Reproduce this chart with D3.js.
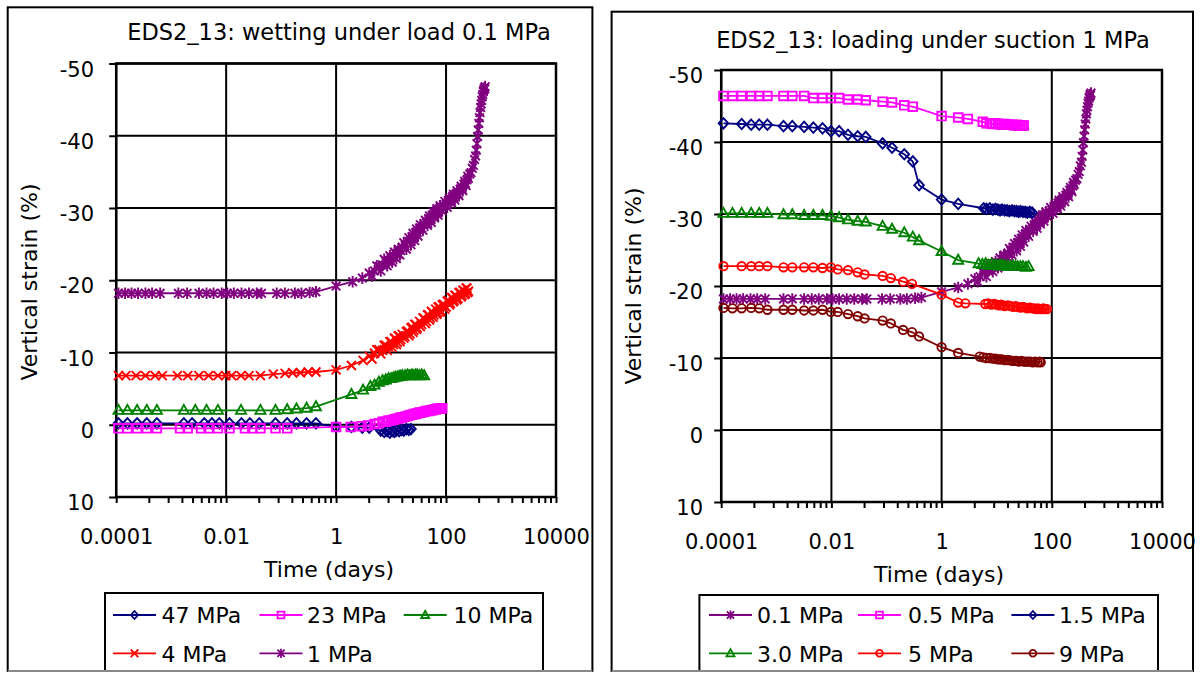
<!DOCTYPE html>
<html>
<head>
<meta charset="utf-8">
<script src="https://cdn.jsdelivr.net/npm/d3@7"></script>
<style>
  body { margin: 0; background: #fff; }
  svg { display: block; }
  text { font-family: "DejaVu Sans", Verdana, sans-serif; fill: #000; }
</style>
</head>
<body>
<svg id="chart" width="1204" height="673"></svg>
<script>
// ---- axis ticks ----
const timeTickValues = [1e-4, 1e-2, 1, 1e2, 1e4];
const timeTickLabels = ["0.0001", "0.01", "1", "100", "10000"];
const strainTickValues = [-50, -40, -30, -20, -10, 0, 10];
const strainTickLabels = ["-50", "-40", "-30", "-20", "-10", "0", "10"];
const minorSteps = [2, 3, 4, 5, 6, 7, 8, 9];

// ---- legend labels ----
const wettingLabels = ["47 MPa", "23 MPa", "10 MPa", "4 MPa", "1 MPa"];
const loadingLabels = ["0.1 MPa", "0.5 MPa", "1.5 MPa", "3.0 MPa", "5 MPa", "9 MPa"];

// ---- wetting under load 0.1 MPa: [time (days), vertical strain (%)] ----
const wet47MPa = [
  [1.1e-4,-0.2],[1.6e-4,-0.2],[2.4e-4,-0.2],[3.6e-4,-0.2],[5.5e-4,-0.2],[1.7e-3,-0.2],[2.4e-3,-0.2],
  [4e-3,-0.2],[5.5e-3,-0.2],[7.5e-3,-0.2],[0.0115,-0.2],[0.019,-0.2],[0.027,-0.2],[0.04,-0.2],
  [0.079,-0.2],[0.129,-0.2],[0.19,-0.2],[0.29,-0.2],[0.43,-0.2],[1,0.3],[1.9,0.3],[3,0.4],[4,0.4],
  [6.5,0.8],[7.5,1.0],[8.5,0.9],[9.5,1.1],[10.5,0.9],[11.5,1.0],[12.5,0.8],[14,0.9],[15.5,0.7],
  [17,0.8],[19,0.6],[21,0.7],[23,0.6]
];
const wet23MPa = [
  [1.1e-4,0.5],[1.6e-4,0.5],[2.4e-4,0.5],[3.6e-4,0.5],[5.5e-4,0.5],[1.45e-3,0.5],[2e-3,0.5],[3.5e-3,0.5],
  [4.8e-3,0.5],[7.1e-3,0.5],[0.0115,0.5],[0.022,0.5],[0.03,0.5],[0.042,0.5],[0.079,0.5],[0.129,0.5],
  [1,0.3],[1.85,0.3],[2.9,0.2],[3.8,0.1],
  [5,-0.1],[6,-0.2],[7,-0.4],[8,-0.4],[9,-0.6],[10,-0.6],[11,-0.7],[12,-0.8],[13,-0.8],[14,-0.9],
  [15,-1.0],[16,-1.0],[18,-1.1],[20,-1.2],[22,-1.3],[24,-1.4],[26,-1.5],[28,-1.5],[30,-1.6],[33,-1.7],
  [36,-1.7],[40,-1.8],[44,-1.9],[48,-1.9],[52,-2.0],[56,-2.0],[60,-2.1],[65,-2.1],[70,-2.2],[75,-2.2],
  [80,-2.3],[85,-2.3]
];
const wet10MPa = [
  [1.1e-4,-2.0],[1.6e-4,-2.0],[2.4e-4,-2.0],[3.6e-4,-2.0],[5.5e-4,-2.0],[1.7e-3,-2.0],[2.75e-3,-2.0],
  [4.4e-3,-2.0],[7.1e-3,-2.0],[0.0186,-2.0],[0.042,-2.0],[0.079,-2.0],[0.129,-2.1],[0.19,-2.2],
  [0.29,-2.3],[0.43,-2.5],[1.9,-4.2],[3.1,-4.8],[4.2,-5.3],[5,-5.5],[6,-5.9],[7,-6.1],[8,-6.2],[9,-6.4],
  [10,-6.4],[11,-6.5],[12,-6.6],[13,-6.6],[14,-6.7],[15,-6.7],[16,-6.8],[18,-6.8],[20,-6.9],[22,-6.8],
  [24,-6.9],[26,-6.8],[28,-6.9],[30,-6.9],[33,-6.8],[36,-6.9],[40,-6.8]
];
const wet4MPa = [
  [1.1e-4,-6.8],[1.5e-4,-6.8],[2.3e-4,-6.8],[3.4e-4,-6.8],[5.1e-4,-6.8],[6.9e-4,-6.8],[1.3e-3,-6.8],
  [2e-3,-6.8],[3.2e-3,-6.8],[4.8e-3,-6.8],[7.1e-3,-6.8],[9.8e-3,-6.8],[0.0126,-6.8],[0.0186,-6.8],
  [0.026,-6.8],[0.042,-6.8],[0.072,-7.0],[0.118,-7.1],[0.162,-7.2],[0.224,-7.2],[0.31,-7.3],[0.43,-7.3],
  [1,-7.6],[1.9,-8.2],[3.1,-8.9],
  [4,-9.5],[4.5,-9.1],[5,-9.9],[5.5,-10.4],[6,-10.4],[6.5,-9.8],[7,-10.3],[7.5,-11.0],[8,-11.0],[8.5,-10.3],
  [9,-10.7],[9.5,-11.5],[10,-11.5],[10.5,-10.7],[11,-11.1],[11.5,-12.0],[12,-11.9],[12.5,-11.1],[13,-11.4],
  [13.5,-12.3],[14,-12.3],[14.5,-11.5],[15,-11.8],[16,-12.5],[17,-12.0],[18,-12.2],[19,-12.9],[20,-13.0],
  [21,-12.3],[22,-12.6],[23,-13.4],[24,-13.5],[25,-12.8],[26,-13.1],[27,-13.9],[28,-13.9],[29,-13.2],
  [30,-13.4],[33,-14.3],[34,-13.6],[36,-13.9],[38,-14.8],[40,-14.7],[42,-14.0],[44,-14.3],[46,-15.2],
  [48,-15.2],[50,-14.5],[52,-14.8],[54,-15.7],[56,-15.6],[58,-14.9],[60,-15.2],[65,-16.0],[68,-15.3],
  [70,-15.5],[72,-16.3],[75,-16.3],[78,-15.6],[80,-15.8],[85,-16.6],[90,-16.7],[95,-16.0],[100,-16.3],
  [105,-17.1],[110,-17.2],[115,-16.6],[120,-16.8],[125,-17.6],[130,-17.6],[135,-17.0],[140,-17.2],
  [145,-17.9],[150,-17.9],[158,-17.3],[165,-17.5],[172,-18.3],[180,-18.3],[188,-17.7],[195,-17.9],
  [202,-18.6],[210,-18.6],[218,-18.0],[225,-18.2],[232,-18.9],[240,-18.9],[248,-18.3],[255,-18.5]
];
const wet1MPa = [
  [1.1e-4,-18.2],[1.45e-4,-18.2],[1.9e-4,-18.2],[2.5e-4,-18.2],[3.4e-4,-18.2],[4.5e-4,-18.2],[6.3e-4,-18.2],
  [1.35e-3,-18.2],[1.95e-3,-18.2],[3.2e-3,-18.2],[4.4e-3,-18.2],[5.9e-3,-18.2],[8.3e-3,-18.2],[0.0105,-18.2],
  [0.0138,-18.2],[0.019,-18.2],[0.026,-18.2],[0.036,-18.2],[0.044,-18.2],[0.083,-18.2],[0.117,-18.2],
  [0.178,-18.2],[0.234,-18.2],[0.33,-18.3],[0.43,-18.4],[1,-19.2],[2,-19.8],[3,-20.3],
  [4,-21.0],[4.5,-20.6],[5,-21.3],[5.5,-22.0],[6,-21.9],[6.5,-21.3],[7,-22.1],[7.5,-22.9],[8,-22.6],
  [8.5,-22.0],[9,-22.5],[9.5,-23.4],[10,-23.1],[10.5,-22.5],[11,-23.2],[11.5,-23.9],[12,-23.7],[12.5,-23.0],
  [13,-23.6],[13.5,-24.3],[14,-24.2],[14.5,-23.5],[15,-24.1],[16,-24.6],[17,-25.2],[18,-24.8],[19,-24.3],
  [20,-25.4],[21,-25.9],[22,-25.4],[23,-24.9],[24,-26.0],[25,-26.5],[26,-26.0],[27,-25.5],[28,-26.6],
  [29,-27.1],[30,-26.6],[31,-26.1],[33,-27.2],[34,-27.7],[36,-27.2],[38,-26.9],[40,-27.8],[42,-28.3],
  [44,-27.9],[46,-27.6],[48,-28.5],[50,-28.9],[52,-28.5],[54,-28.0],[56,-29.0],[58,-29.5],[60,-29.0],
  [62,-28.6],[65,-29.5],[68,-29.9],[70,-29.4],[72,-29.0],[75,-29.9],[78,-30.3],[80,-29.8],[85,-29.6],
  [90,-30.4],[95,-30.9],[100,-30.5],[105,-30.1],[110,-31.0],[115,-31.4],[120,-31.0],[125,-30.7],
  [130,-31.5],[135,-31.9],[140,-31.5],[145,-31.1],[150,-31.9],[158,-32.4],[165,-32.0],[172,-31.7],
  [180,-32.6],[188,-33.0],[195,-32.7],[202,-32.4],[210,-33.3],[218,-33.7],[225,-33.4],[232,-33.1],
  [240,-33.9],[248,-34.4],[255,-34.1],[270,-34.7],[285,-34.9],[300,-35.5],[315,-35.9],[330,-36.7],
  [345,-37.2],[355,-38.0],[365,-38.9],[375,-39.9],[385,-40.8],[395,-41.7],[405,-42.5],[415,-43.2],
  [425,-43.9],[435,-44.4],[445,-44.9],[455,-45.4],[465,-45.7],[475,-46.1],[485,-46.3],[495,-46.6],
  [505,-46.5],[515,-46.8]
];

// ---- loading under suction 1 MPa ----
// the 0.1 MPa stage is the same record as the 1 MPa wetting path
const load01MPa = wet1MPa;
const load05MPa = [
  [1.1e-4,-46.4],[1.6e-4,-46.4],[2.35e-4,-46.4],[3.5e-4,-46.4],[4.9e-4,-46.4],[6.9e-4,-46.4],[1.35e-3,-46.4],
  [1.95e-3,-46.4],[3.2e-3,-46.4],[4.7e-3,-46.1],[6.9e-3,-46.1],[9.8e-3,-46.1],[0.0138,-46.1],[0.02,-45.9],
  [0.03,-45.9],[0.042,-45.8],[0.085,-45.6],[0.126,-45.5],[0.21,-45.1],[0.30,-44.9],[1,-43.6],[2,-43.4],
  [3,-43.2],[5.6,-42.8],[6.5,-42.6],[7.5,-42.6],[8.5,-42.5],[9.5,-42.6],[10.5,-42.5],[11.5,-42.5],
  [12.5,-42.4],[14,-42.5],[15.5,-42.4],[17,-42.4],[19,-42.4],[21,-42.3],[23,-42.4],[25,-42.3],[27,-42.3],
  [29,-42.3],[31,-42.3]
];
const load15MPa = [
  [1.1e-4,-42.6],[2.35e-4,-42.5],[3.5e-4,-42.4],[4.9e-4,-42.4],[6.9e-4,-42.4],[1.35e-3,-42.2],[1.95e-3,-42.2],
  [3.2e-3,-42.1],[4.7e-3,-42.0],[6.9e-3,-41.9],[9.8e-3,-41.5],[0.0138,-41.5],[0.02,-41.0],[0.03,-40.8],
  [0.042,-40.7],[0.085,-39.8],[0.126,-39.2],[0.21,-38.3],[0.30,-37.3],[0.39,-34.0],[1,-32.0],[2,-31.4],
  [5.8,-30.8],[6.5,-30.7],[7.5,-30.8],[8.5,-30.6],[9.5,-30.7],[10.5,-30.6],[11.5,-30.5],[12.5,-30.6],
  [14,-30.5],[15.5,-30.5],[17,-30.4],[19,-30.5],[21,-30.4],[23,-30.4],[25,-30.3],[27,-30.4],[30,-30.3],
  [33,-30.3],[36,-30.2],[40,-30.3],[44,-30.2]
];
const load30MPa = [
  [1.1e-4,-30.1],[1.6e-4,-30.1],[2.35e-4,-30.1],[3.5e-4,-30.1],[4.9e-4,-30.1],[6.9e-4,-30.1],[1.35e-3,-29.9],
  [1.95e-3,-29.9],[3.2e-3,-29.8],[4.7e-3,-29.8],[6.9e-3,-29.8],[9.8e-3,-29.7],[0.0138,-29.5],[0.02,-29.2],
  [0.03,-29.0],[0.042,-28.9],[0.085,-28.3],[0.126,-27.9],[0.21,-27.4],[0.30,-26.8],[0.39,-26.3],[1,-24.8],
  [2,-23.6],[4.7,-23.1],[5.5,-23.0],[6.3,-23.1],[7,-22.9],[8,-23.0],[9,-22.9],[10,-22.9],[11,-22.8],
  [12,-22.9],[13,-22.8],[14,-22.8],[16,-22.8],[18,-22.7],[20,-22.8],[22,-22.7],[24,-22.7],[27,-22.7],
  [30,-22.7],[34,-22.6],[38,-22.7]
];
const load5MPa = [
  [1.1e-4,-22.75],[2.35e-4,-22.75],[3.5e-4,-22.75],[4.9e-4,-22.75],[6.9e-4,-22.75],[1.35e-3,-22.6],
  [1.95e-3,-22.6],[3.2e-3,-22.6],[4.7e-3,-22.6],[6.9e-3,-22.5],[9.8e-3,-22.6],[0.013,-22.3],[0.02,-22.2],
  [0.03,-21.9],[0.04,-21.6],[0.085,-21.4],[0.12,-21.1],[0.2,-20.6],[0.29,-20.3],[1,-18.8],[2,-17.7],
  [2.7,-17.6],[6.2,-17.5],[7,-17.6],[8,-17.4],[9,-17.5],[10,-17.4],[11,-17.3],[12,-17.4],[13,-17.3],
  [14,-17.2],[16,-17.3],[18,-17.2],[20,-17.1],[22,-17.2],[24,-17.1],[27,-17.0],[30,-17.1],[33,-17.0],
  [36,-16.9],[40,-17.0],[44,-16.9],[48,-16.9],[52,-16.8],[56,-16.9],[60,-16.8],[65,-16.8],[70,-16.9],
  [75,-16.8],[82,-16.8]
];
const load9MPa = [
  [1.1e-4,-16.95],[1.6e-4,-16.9],[2.35e-4,-16.9],[3.5e-4,-16.95],[4.9e-4,-16.9],[6.9e-4,-16.7],[1.35e-3,-16.7],
  [1.95e-3,-16.7],[3.2e-3,-16.6],[4.7e-3,-16.6],[6.9e-3,-16.7],[9.8e-3,-16.4],[0.013,-16.4],[0.02,-16.1],
  [0.03,-15.8],[0.04,-15.5],[0.085,-15.2],[0.12,-14.8],[0.2,-13.9],[0.29,-13.6],[0.39,-13.0],[1,-11.5],
  [2,-10.7],[4.9,-10.2],[5.7,-10.1],[6.5,-10.0],[7.5,-10.0],[8.5,-9.9],[9.5,-9.9],[10.5,-9.8],[11.5,-9.8],
  [12.5,-9.8],[14,-9.7],[15.5,-9.7],[17,-9.7],[19,-9.6],[21,-9.6],[23,-9.6],[25,-9.5],[28,-9.6],[31,-9.5],
  [34,-9.5],[37,-9.5],[41,-9.5],[45,-9.4],[50,-9.5],[55,-9.4],[60,-9.5],[63,-9.4]
];

// ---- marker glyphs (centred on the data point) ----
const markerPaths = {
  diamond: "M0,-5.2L4.8,0L0,5.2L-4.8,0Z",
  square: "M-4.3,-4.3H4.3V4.3H-4.3Z",
  triangle: "M0,-5.4L5,3.6H-5Z",
  cross: "M-4.5,-4.5L4.5,4.5M-4.5,4.5L4.5,-4.5",
  star: "M-4.3,-4.3L4.3,4.3M-4.3,4.3L4.3,-4.3M0,-5.8V5.8",
  circle: "M4.2,0A4.2,4.2 0 1,1 -4.2,0A4.2,4.2 0 1,1 4.2,0Z"
};
const legendMarkerPaths = {
  diamond: "M0,-4L3.6,0L0,4L-3.6,0Z",
  square: "M-3.4,-3.4H3.4V3.4H-3.4Z",
  triangle: "M0,-4.2L4,3H-4Z",
  cross: "M-3.8,-3.8L3.8,3.8M-3.8,3.8L3.8,-3.8",
  star: "M-3.6,-3.6L3.6,3.6M-3.6,3.6L3.6,-3.6M0,-4.6V4.6",
  circle: "M3.4,0A3.4,3.4 0 1,1 -3.4,0A3.4,3.4 0 1,1 3.4,0Z"
};

const NAVY = "#000080", MAGENTA = "#FF00FF", GREEN = "#008000",
      RED = "#FF0000", PURPLE = "#800080", MAROON = "#800000";

const panels = [
  {
    frame: [7.7, 7.3, 592.4, 671],
    plot: { x0: 116.2, x1: 556, y0: 63.5, y1: 497 },
    title: "EDS2_13: wetting under load 0.1 MPa", titleX: 339, titleY: 40,
    yLabelRight: 94, yLabelCenter: 282, yTitleX: 37,
    xTitleX: 329, xTitleY: 577,
    series: [
      { label: wettingLabels[0], data: wet47MPa, color: NAVY, marker: "diamond" },
      { label: wettingLabels[1], data: wet23MPa, color: MAGENTA, marker: "square" },
      { label: wettingLabels[2], data: wet10MPa, color: GREEN, marker: "triangle" },
      { label: wettingLabels[3], data: wet4MPa, color: RED, marker: "cross" },
      { label: wettingLabels[4], data: wet1MPa, color: PURPLE, marker: "star" }
    ],
    legend: { x0: 105, x1: 543, top: 593, lineX: [113, 259.5, 403.7], textX: [161.5, 307, 453.5], rowY: [615, 653.3] }
  },
  {
    frame: [611.6, 11.7, 1193, 671],
    plot: { x0: 721.2, x1: 1162, y0: 70, y1: 502 },
    title: "EDS2_13: loading under suction 1 MPa", titleX: 933, titleY: 47.5,
    yLabelRight: 703, yLabelCenter: 286, yTitleX: 641,
    xTitleX: 939, xTitleY: 582,
    series: [
      { label: loadingLabels[0], data: load01MPa, color: PURPLE, marker: "star" },
      { label: loadingLabels[1], data: load05MPa, color: MAGENTA, marker: "square" },
      { label: loadingLabels[2], data: load15MPa, color: NAVY, marker: "diamond" },
      { label: loadingLabels[3], data: load30MPa, color: GREEN, marker: "triangle" },
      { label: loadingLabels[4], data: load5MPa, color: RED, marker: "circle" },
      { label: loadingLabels[5], data: load9MPa, color: MAROON, marker: "circle" }
    ],
    legend: { x0: 699.4, x1: 1158, top: 595, lineX: [709, 858, 1011.4], textX: [757, 908, 1059], rowY: [615, 653.3] }
  }
];

const svg = d3.select("#chart");

function drawPanel(p) {
  const g = svg.append("g");
  const x = d3.scaleLog().domain([1e-4, 1e4]).range([p.plot.x0, p.plot.x1]);
  const y = d3.scaleLinear().domain([-50, 10]).range([p.plot.y0, p.plot.y1]);

  // gridlines
  g.append("g").selectAll("line").data(strainTickValues).join("line")
    .attr("x1", p.plot.x0).attr("x2", p.plot.x1)
    .attr("y1", d => y(d)).attr("y2", d => y(d))
    .attr("stroke", "#000").attr("stroke-width", 2);
  g.append("g").selectAll("line").data(timeTickValues).join("line")
    .attr("x1", d => x(d)).attr("x2", d => x(d))
    .attr("y1", p.plot.y0).attr("y2", p.plot.y1)
    .attr("stroke", "#000").attr("stroke-width", 2);

  // plot area border
  g.append("rect")
    .attr("x", p.plot.x0).attr("y", p.plot.y0)
    .attr("width", p.plot.x1 - p.plot.x0).attr("height", p.plot.y1 - p.plot.y0)
    .attr("fill", "none").attr("stroke", "#000").attr("stroke-width", 2.5);

  // y axis
  const yAxis = d3.axisLeft(y).tickValues(strainTickValues)
    .tickFormat((d, i) => strainTickLabels[i])
    .tickSizeInner(7).tickSizeOuter(0).tickPadding(p.plot.x0 - 7 - p.yLabelRight);
  const ya = g.append("g").attr("transform", `translate(${p.plot.x0},0)`).call(yAxis);
  ya.select(".domain").remove();
  ya.selectAll("line").attr("stroke", "#000").attr("stroke-width", 2);
  ya.selectAll("text").attr("dy", "0.6em").style("font-size", "21px")
    .style("font-family", '"DejaVu Sans", Verdana, sans-serif');

  // x axis
  const xAxis = d3.axisBottom(x).tickValues(timeTickValues)
    .tickFormat((d, i) => timeTickLabels[i])
    .tickSizeInner(6).tickSizeOuter(0);
  const xa = g.append("g").attr("transform", `translate(0,${p.plot.y1})`).call(xAxis);
  xa.select(".domain").remove();
  xa.selectAll("line").attr("stroke", "#000").attr("stroke-width", 2);
  xa.selectAll("text").attr("y", 47).attr("dy", null).style("font-size", "21px")
    .style("font-family", '"DejaVu Sans", Verdana, sans-serif');

  // minor ticks: eight per two-decade step, at base·k²
  const minor = [];
  timeTickValues.slice(0, -1).forEach(b => minorSteps.forEach(k => minor.push(b * k * k)));
  g.append("g").selectAll("line").data(minor).join("line")
    .attr("x1", d => x(d)).attr("x2", d => x(d))
    .attr("y1", p.plot.y1).attr("y2", p.plot.y1 + 6)
    .attr("stroke", "#000").attr("stroke-width", 2);

  // titles
  g.append("text").attr("x", p.titleX).attr("y", p.titleY)
    .attr("text-anchor", "middle").style("font-size", "22.5px").text(p.title);
  g.append("text").attr("x", p.xTitleX).attr("y", p.xTitleY)
    .attr("text-anchor", "middle").style("font-size", "22px").text("Time (days)");
  g.append("text")
    .attr("transform", `translate(${p.yTitleX},${p.yLabelCenter}) rotate(-90)`)
    .attr("text-anchor", "middle").style("font-size", "22px").text("Vertical strain (%)");

  // series
  const line = d3.line().x(d => x(d[0])).y(d => y(d[1]));
  p.series.forEach(s => {
    const sg = g.append("g");
    sg.append("path").attr("d", line(s.data))
      .attr("fill", "none").attr("stroke", s.color).attr("stroke-width", 1.8);
    sg.selectAll("path.m").data(s.data).join("path").attr("class", "m")
      .attr("transform", d => `translate(${x(d[0])},${y(d[1])})`)
      .attr("d", markerPaths[s.marker])
      .attr("fill", "none").attr("stroke", s.color).attr("stroke-width", 1.9);
  });

  // legend
  const L = p.legend;
  g.append("rect").attr("x", L.x0).attr("y", L.top)
    .attr("width", L.x1 - L.x0).attr("height", p.frame[3] - L.top + 4)
    .attr("fill", "#fff").attr("stroke", "#000").attr("stroke-width", 2);
  p.series.forEach((s, i) => {
    const col = i % 3, row = Math.floor(i / 3);
    const lx = L.lineX[col], ly = L.rowY[row];
    g.append("line").attr("x1", lx).attr("x2", lx + 43).attr("y1", ly).attr("y2", ly)
      .attr("stroke", s.color).attr("stroke-width", 1.8);
    g.append("path").attr("transform", `translate(${lx + 21.5},${ly})`)
      .attr("d", legendMarkerPaths[s.marker])
      .attr("fill", "none").attr("stroke", s.color).attr("stroke-width", 1.8);
    g.append("text").attr("x", L.textX[col]).attr("y", ly + 8.3)
      .style("font-size", "22px").text(s.label);
  });

  // outer frame, drawn last so it trims the legend box
  g.append("rect").attr("x", p.frame[0]).attr("y", p.frame[1])
    .attr("width", p.frame[2] - p.frame[0]).attr("height", p.frame[3] - p.frame[1])
    .attr("fill", "none").attr("stroke", "#000").attr("stroke-width", 2);
  g.append("rect").attr("x", p.frame[0] - 2).attr("y", p.frame[3] + 1)
    .attr("width", p.frame[2] - p.frame[0] + 4).attr("height", 10).attr("fill", "#fff");
  g.append("line").attr("x1", p.frame[0]).attr("x2", p.frame[2])
    .attr("y1", p.frame[3]).attr("y2", p.frame[3])
    .attr("stroke", "#888").attr("stroke-width", 2);
}

panels.forEach(drawPanel);
</script>
</body>
</html>
